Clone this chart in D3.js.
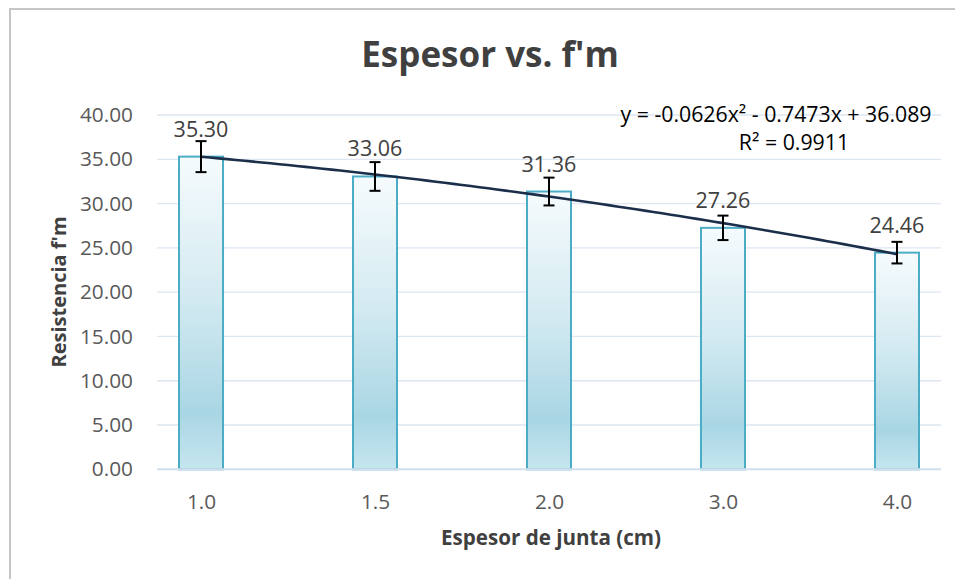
<!DOCTYPE html>
<html>
<head>
<meta charset="utf-8">
<script src="https://cdn.jsdelivr.net/npm/d3@7/dist/d3.min.js"></script>
<style>
  html, body { margin: 0; padding: 0; background: #ffffff; }
  svg { display: block; }
  text { font-family: "Open Sans", "Noto Sans", sans-serif; }
</style>
</head>
<body>
<svg id="chart" width="955" height="579"></svg>
<script>
// ---- data ----
const categories = ["1.0", "1.5", "2.0", "3.0", "4.0"];
const values = [35.30, 33.06, 31.36, 27.26, 24.46];
const errors = [1.75, 1.62, 1.57, 1.38, 1.22];
const yTicks = [0, 5, 10, 15, 20, 25, 30, 35, 40];
const titleText = "Espesor vs. f'm";
const xTitle = "Espesor de junta (cm)";
const yTitle = "Resistencia f'm";
const equationText = "y = -0.0626x² - 0.7473x + 36.089";
const r2Text = "R² = 0.9911";

// ---- layout ----
const W = 955, H = 579;
const plot = { left: 157, right: 941, top: 115, bottom: 469.3 };

const svg = d3.select("#chart");
svg.append("rect").attr("width", W).attr("height", H).attr("fill", "#ffffff");
// chart border (extends past right/bottom edges)
svg.append("rect")
  .attr("x", 10).attr("y", 9).attr("width", W + 20).attr("height", H + 20)
  .attr("fill", "none").attr("stroke", "#c6c6c6").attr("stroke-width", 2);

const x = d3.scalePoint().domain(categories).range([plot.left, plot.right]).padding(0.253);
const y = d3.scaleLinear().domain([0, 40]).range([plot.bottom, plot.top]);
const barW = x.step() * 0.253;

// gradient
const defs = svg.append("defs");
const grad = defs.append("linearGradient").attr("id", "barGrad")
  .attr("x1", 0).attr("y1", 0).attr("x2", 0).attr("y2", 1);
grad.append("stop").attr("offset", "0%").attr("stop-color", "#f6fbfd");
grad.append("stop").attr("offset", "45%").attr("stop-color", "#d3eaf1");
grad.append("stop").attr("offset", "82%").attr("stop-color", "#a9d6e4");
grad.append("stop").attr("offset", "100%").attr("stop-color", "#c6e6ef");

// gridlines
svg.append("g").selectAll("line").data(yTicks.filter(d => d > 0)).join("line")
  .attr("x1", plot.left).attr("x2", plot.right)
  .attr("y1", d => y(d)).attr("y2", d => y(d))
  .attr("stroke", "#dde6f1").attr("stroke-width", 1.3);

// y axis labels
const yAxis = d3.axisLeft(y).tickValues(yTicks).tickFormat(d3.format(".2f")).tickSize(0).tickPadding(24);
const gy = svg.append("g").attr("transform", `translate(${plot.left},0)`).call(yAxis);
gy.select(".domain").remove();
gy.selectAll("text").attr("font-size", 20.8).attr("fill", "#595959")
  .attr("font-family", "'Open Sans', sans-serif");

// bars
svg.append("g").selectAll("rect").data(values).join("rect")
  .attr("x", (d, i) => x(categories[i]) - barW / 2)
  .attr("y", d => y(d))
  .attr("width", barW)
  .attr("height", d => y(0) - y(d))
  .attr("fill", "url(#barGrad)")
  .attr("stroke", "#4bacc6").attr("stroke-width", 2);

// x axis baseline
svg.append("line").attr("x1", plot.left).attr("x2", plot.right)
  .attr("y1", y(0)).attr("y2", y(0))
  .attr("stroke", "#d2dfee").attr("stroke-width", 2);

// x axis labels
const xAxis = d3.axisBottom(x).tickSize(0).tickPadding(0);
const gx = svg.append("g").attr("transform", `translate(0,${y(0)})`).call(xAxis);
gx.select(".domain").remove();
gx.selectAll("text").attr("font-size", 20.8).attr("fill", "#595959")
  .attr("font-family", "'Open Sans', sans-serif")
  .attr("dy", null).attr("y", 40);

// trendline: least-squares quadratic fit over category index
(function () {
  const n = values.length;
  const xs = values.map((d, i) => i + 1);
  let S = [0, 0, 0, 0, 0], T = [0, 0, 0];
  xs.forEach((xi, i) => {
    for (let k = 0; k < 5; k++) S[k] += Math.pow(xi, k);
    for (let k = 0; k < 3; k++) T[k] += values[i] * Math.pow(xi, k);
  });
  const M = [[S[0], S[1], S[2], T[0]], [S[1], S[2], S[3], T[1]], [S[2], S[3], S[4], T[2]]];
  for (let c = 0; c < 3; c++) {
    for (let r = c + 1; r < 3; r++) {
      const f = M[r][c] / M[c][c];
      for (let k = c; k < 4; k++) M[r][k] -= f * M[c][k];
    }
  }
  const coef = [0, 0, 0];
  for (let r = 2; r >= 0; r--) {
    let s = M[r][3];
    for (let k = r + 1; k < 3; k++) s -= M[r][k] * coef[k];
    coef[r] = s / M[r][r];
  }
  const xi = d3.scaleLinear().domain([1, n]).range([x(categories[0]), x(categories[n - 1])]);
  const pts = d3.range(1, n + 0.001, 0.05).map(t => [xi(t), y(coef[0] + coef[1] * t + coef[2] * t * t)]);
  svg.append("path").attr("d", d3.line()(pts))
    .attr("fill", "none").attr("stroke", "#1b2f4b").attr("stroke-width", 2.6);
})();

// error bars
const eg = svg.append("g").attr("stroke", "#000000").attr("stroke-width", 2);
values.forEach((v, i) => {
  const cx = x(categories[i]);
  const y1 = y(v + errors[i]), y2 = y(v - errors[i]);
  eg.append("line").attr("x1", cx).attr("x2", cx).attr("y1", y1).attr("y2", y2);
  eg.append("line").attr("x1", cx - 5.5).attr("x2", cx + 5.5).attr("y1", y1).attr("y2", y1);
  eg.append("line").attr("x1", cx - 5.5).attr("x2", cx + 5.5).attr("y1", y2).attr("y2", y2);
});

// data labels
svg.append("g").selectAll("text").data(values).join("text")
  .attr("x", (d, i) => x(categories[i]))
  .attr("y", d => y(d) - 20)
  .attr("text-anchor", "middle")
  .attr("font-size", 21.5).attr("fill", "#404040")
  .text(d => d3.format(".2f")(d));

// title
svg.append("text").attr("x", 490).attr("y", 67).attr("text-anchor", "middle")
  .attr("font-size", 35).attr("font-weight", "bold").attr("fill", "#404040")
  .text(titleText);

// axis titles
svg.append("text").attr("x", 551).attr("y", 545).attr("text-anchor", "middle")
  .attr("font-size", 20.6).attr("font-weight", "bold").attr("fill", "#404040")
  .text(xTitle);
svg.append("text").attr("transform", "translate(66,292) rotate(-90)")
  .attr("text-anchor", "middle")
  .attr("font-size", 20).attr("font-weight", "bold").attr("fill", "#404040")
  .text(yTitle);

// trendline equation
svg.append("text").attr("x", 776).attr("y", 122).attr("text-anchor", "middle")
  .attr("font-size", 21.3).attr("fill", "#000000").text(equationText);
svg.append("text").attr("x", 794).attr("y", 150).attr("text-anchor", "middle")
  .attr("font-size", 21.3).attr("fill", "#000000").text(r2Text);
</script>
</body>
</html>
